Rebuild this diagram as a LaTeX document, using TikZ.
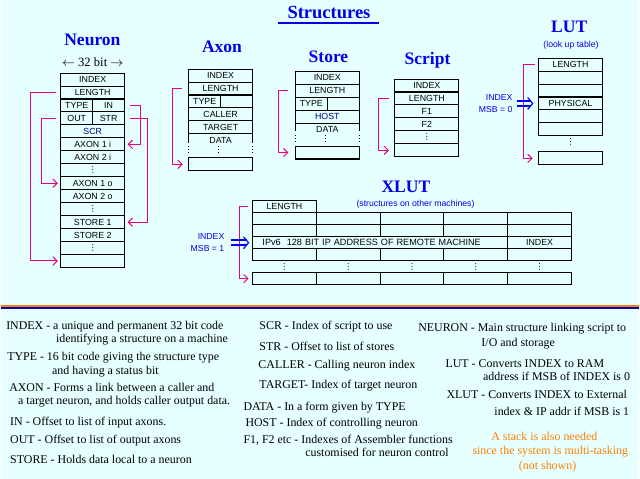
\documentclass[tikz,border=0pt]{standalone}
\usepackage{fontspec}
\setmainfont{Liberation Serif}
\newfontfamily\tabfont{Liberation Sans}
\newfontfamily\symbfont{DejaVu Sans}
\usetikzlibrary{positioning,arrows.meta}
\definecolor{fond}{RGB}{230,255,255}
\definecolor{titrebleu}{RGB}{0,0,235}
\definecolor{lienrose}{RGB}{235,0,125}
\definecolor{marine}{RGB}{0,0,128}
\definecolor{orangevif}{RGB}{255,128,0}
\definecolor{filetbleu}{RGB}{0,0,200}
\newlength{\pix}
\setlength{\pix}{0.025cm}
\newcommand{\pts}{{\symbfont\fontsize{6}{6}\selectfont ⋮}}

\begin{document}
\begin{tikzpicture}[x=\pix, y=\pix,
    champ/.style={draw, line width=0.75pt, minimum width=64\pix,
      minimum height=13\pix, inner sep=0pt, outer sep=0pt,
      font=\tabfont\fontsize{6.3}{7}\selectfont},
    demi/.style={champ, minimum width=32\pix},
    ouvert/.style={champ, draw=none},
    xchamp/.style={champ, minimum height=12\pix},
    titre/.style={text=titrebleu, font=\bfseries\fontsize{12.5}{15}\selectfont,
      inner sep=0pt, anchor=base},
    note/.style={text=titrebleu, font=\tabfont\fontsize{6.2}{8.5}\selectfont,
      inner sep=0pt},
    expl/.style={font=\fontsize{8.5}{10}\selectfont, inner sep=0pt,
      anchor=base west},
    lien/.style={lienrose, line width=0.7pt,
      -{Straight Barb[length=3pt,width=6pt]}},
    fleche/.style={blue, line width=1.6\pix},
    pointille/.style={line width=0.75pt, dash pattern=on 0.75pt off 1.4pt}]
  % Fond et titre general
  \fill[fond] (0,0) rectangle (640,-480);
  \node[titre, font=\bfseries\fontsize{13.2}{17}\selectfont] (structures)
    at (329,-19) {Structures};
  \draw[titrebleu, line width=1.2\pix]
    ([shift={(-9,-4)}]structures.base west)
      -- ([shift={(8,-4)}]structures.base east);

  % Neuron : 32 bits par ligne
  \node[titre] (tneuron) at (91.7,-45.5) {Neuron};
  \node[inner sep=0pt, font=\fontsize{9}{10}\selectfont, anchor=base] (bits)
    at (92,-67) {$\leftarrow$ 32 bit $\rightarrow$};
  \node[champ] (nidx) at (92,-79.8) {INDEX};
  \node[champ, below=0pt of nidx] (nlen) {LENGTH};
  \node[demi, below right=0pt and 0pt of nlen.south west] (ntype) {TYPE};
  \node[demi, right=0pt of ntype] (nin) {IN};
  \node[demi, below=0pt of ntype] (nout) {OUT};
  \node[demi, right=0pt of nout] (nstr) {STR};
  \node[champ, below=0pt of nout.south east] (nscr) {\textcolor{marine}{SCR}};
  \node[champ, below=0pt of nscr] (nai1) {AXON 1 i};
  \node[champ, below=0pt of nai1] (nai2) {AXON 2 i};
  \node[champ, below=0pt of nai2] (nd1) {\pts};
  \node[champ, below=0pt of nd1] (nao1) {AXON 1 o};
  \node[champ, below=0pt of nao1] (nao2) {AXON 2 o};
  \node[champ, below=0pt of nao2] (nd2) {\pts};
  \node[champ, below=0pt of nd2] (nst1) {STORE 1};
  \node[champ, below=0pt of nst1] (nst2) {STORE 2};
  \node[champ, below=0pt of nst2] (nd3) {\pts};
  \node[champ, below=0pt of nd3] (nlast) {};
  \draw[lien] ([xshift=-5\pix]nlen.west) -- ++(-25,0)
    |- ([xshift=-3\pix]nlast.west);
  \draw[lien] ([xshift=-5\pix]nout.west) -- ++(-14,0)
    |- ([xshift=-3\pix]nao1.west);
  \draw[lien] ([xshift=5\pix]nin.east) -- ++(11,0)
    |- ([xshift=3\pix]nai1.east);
  \draw[lien] ([xshift=5\pix]nstr.east) -- ++(18,0)
    |- ([xshift=3\pix]nst1.east);

  % Axon
  \node[titre] (taxon) at (221.7,-52.5) {Axon};
  \node[champ] (aidx) at (220.3,-75.8) {INDEX};
  \node[champ, below=0pt of aidx] (alen) {LENGTH};
  \node[demi, below right=0pt and 0pt of alen.south west] (atype) {TYPE};
  \node[demi, right=0pt of atype] (atypeb) {};
  \node[champ, below=0pt of atype.south east] (acall) {CALLER};
  \node[champ, below=0pt of acall] (atarg) {TARGET};
  \node[ouvert, below=0pt of atarg] (adata) {DATA};
  \node[champ, below=11\pix of adata] (alast) {};
  \draw[line width=0.75pt] (adata.north west) -- ++(0,-9)
    (adata.north east) -- ++(0,-9);
  \draw[pointille] ([yshift=-12.5\pix]adata.north west) -- ++(0,-7)
    ([shift={(-2,-12.5)}]adata.north) -- ++(0,-7)
    ([yshift=-12.5\pix]adata.north east) -- ++(0,-7);
  \draw[lien] ([xshift=-7\pix]alen.west) -- ++(-9,0)
    |- ([xshift=-6\pix]alast.west);

  % Store
  \node[titre] (tstore) at (328.5,-62.3) {Store};
  \node[champ] (sidx) at (327.3,-78) {INDEX};
  \node[champ, below=0pt of sidx] (slen) {LENGTH};
  \node[demi, below right=0pt and 0pt of slen.south west] (stype) {TYPE};
  \node[demi, right=0pt of stype] (stypeb) {};
  \node[champ, below=0pt of stype.south east] (shost)
    {\textcolor{marine}{HOST}};
  \node[ouvert, below=0pt of shost] (sdata) {DATA};
  \node[champ, below=10\pix of sdata] (slast) {};
  \draw[line width=0.75pt] (sdata.north west) -- ++(0,-7.5)
    (sdata.north east) -- ++(0,-7.5);
  \draw[pointille] ([yshift=-12\pix]sdata.north west) -- ++(0,-7)
    ([shift={(-2,-12)}]sdata.north) -- ++(0,-7)
    ([yshift=-12\pix]sdata.north east) -- ++(0,-7);
  \draw[lien] ([xshift=-7\pix]slen.west) -- ++(-10,0)
    |- ([xshift=-7\pix]slast.west);

  % Script
  \node[titre] (tscript) at (427.8,-65) {Script};
  \node[champ] (cidx) at (427.2,-85.8) {INDEX};
  \node[champ, below=0pt of cidx] (clen) {LENGTH};
  \node[champ, below=0pt of clen] (cf1) {F1};
  \node[champ, below=0pt of cf1] (cf2) {F2};
  \node[champ, below=0pt of cf2] (cdots) {\pts};
  \node[champ, below=0pt of cdots] (clast) {};
  \draw[lien] ([xshift=-6\pix]clen.west) -- ++(-11,0)
    |- ([xshift=-6\pix]clast.west);

  % LUT (look up table)
  \node[titre] (tlut) at (570,-32.7) {LUT};
  \node[note, anchor=base] (nlook) at (571.8,-48) {(look up table)};
  \node[champ] (llen) at (571.3,-64.8) {LENGTH};
  \node[champ, below=0pt of llen] (lr2) {};
  \node[champ, below=0pt of lr2] (lr3) {};
  \node[champ, below=0pt of lr3] (lphys) {PHYSICAL};
  \node[champ, below=0pt of lphys] (lr5) {};
  \node[champ, below=0pt of lr5] (lr6) {};
  \node[ouvert, below=0pt of lr6] (ldots) {\pts};
  \node[champ, below=3\pix of ldots] (llast) {};
  \draw[lien] ([xshift=-4\pix]llen.west) -- ++(-11,0)
    |- ([xshift=-6\pix]llast.west);
  \node[note, align=right, anchor=east, left=26\pix of lphys] (ilut)
    {INDEX\\MSB = 0};
  \draw[fleche] ([shift={(4,2.3)}]ilut.east) -- ([shift={(-8,2.3)}]lphys.west)
    ([shift={(4,-2.3)}]ilut.east) -- ([shift={(-8,-2.3)}]lphys.west);
  \draw[blue, line width=1.2\pix] ([shift={(-11,6)}]lphys.west)
    -- ([xshift=-6\pix]lphys.west) -- ([shift={(-11,-6)}]lphys.west);

  % XLUT : structures sur d'autres machines
  \node[titre] (txlut) at (406.2,-192.7) {XLUT};
  \node[note, anchor=base] (nother) at (415.8,-207)
    {(structures on other machines)};
  \node[xchamp] (xlen) at (284.3,-207.5) {LENGTH};
  \foreach \c in {1,...,5} {
    \node[xchamp] (xa\c) at ({220.3+64*\c},-219.5) {};
    \node[xchamp, below=0pt of xa\c] (xb\c) {};
    \node[xchamp, below=12\pix of xb\c] (xd\c) {};
    \node[xchamp, draw=none, below=0pt of xd\c] (xe\c) {\pts};
    \node[xchamp, below=0pt of xe\c] (xf\c) {};
  }
  \node[xchamp, below=0pt of xb5] (xindex) {INDEX};
  \node[xchamp, minimum width=256\pix, text width=236\pix, align=left,
        font=\tabfont\fontsize{6.5}{7}\selectfont, left=0pt of xindex] (xip)
    {IPv6~~128 BIT IP ADDRESS OF REMOTE MACHINE};
  \draw[lien] ([xshift=-5\pix]xlen.west) -- ++(-8,0)
    |- ([xshift=-4\pix]xf1.west);
  \node[note, align=right, anchor=east, left=28\pix of xip] (ixlut)
    {INDEX\\MSB = 1};
  \draw[fleche] ([shift={(6.5,2.5)}]ixlut.east) -- ([shift={(-6,2.5)}]xip.west)
    ([shift={(6.5,-2.5)}]ixlut.east) -- ([shift={(-6,-2.5)}]xip.west);
  \draw[blue, line width=1.2\pix] ([shift={(-9,6)}]xip.west)
    -- ([xshift=-4\pix]xip.west) -- ([shift={(-9,-6)}]xip.west);

  % Filet de separation
  \draw[orangevif, line width=1.8\pix] (0,-307.3) -- (640,-307.3);
  \draw[filetbleu, line width=2\pix] (0,-309.3) -- (640,-309.3);

  % Legende : premiere colonne
  \node[expl] (e1) at (5,-330.7)
    {INDEX - a unique and permanent 32 bit code};
  \node[expl] (e2) at (55,-344) {identifying a structure on a machine};
  \node[expl] (e3) at (6,-361.3)
    {TYPE - 16 bit code giving the structure type};
  \node[expl] (e4) at (51,-375.7) {and having a status bit};
  \node[expl] (e5) at (8,-393) {AXON - Forms a link between a caller and};
  \node[expl] (e6) at (17,-405.7)
    {a target neuron, and holds caller output data.};
  \node[expl] (e7) at (9,-427.3) {IN - Offset to list of input axons.};
  \node[expl] (e8) at (9,-444.7) {OUT - Offset to list of output axons};
  \node[expl] (e9) at (9,-465) {STORE - Holds data local to a neuron};
  % deuxieme colonne
  \node[expl] (f1) at (259,-330.7) {SCR - Index of script to use};
  \node[expl] (f2) at (259,-351.7) {STR - Offset to list of stores};
  \node[expl] (f3) at (258,-369.7) {CALLER - Calling neuron index};
  \node[expl] (f4) at (259,-389.7) {TARGET- Index of target neuron};
  \node[expl] (f5) at (243,-411.7) {DATA - In a form given by TYPE};
  \node[expl] (f6) at (245,-428) {HOST - Index of controlling neuron};
  \node[expl] (f7) at (243,-444.7)
    {F1, F2 etc - Indexes of Assembler functions};
  \node[expl] (f8) at (305,-458) {customised for neuron control};
  % troisieme colonne
  \node[expl] (g1) at (418.3,-333)
    {NEURON - Main structure linking script to};
  \node[expl] (g2) at (481.7,-347.3) {I/O and storage};
  \node[expl] (g3) at (445.7,-368.3) {LUT - Converts INDEX to RAM};
  \node[expl] (g4) at (483.3,-381.7) {address if MSB of INDEX is 0};
  \node[expl] (g5) at (446.7,-400) {XLUT - Converts INDEX to External};
  \node[expl] (g6) at (494.7,-416.7) {index \& IP addr if MSB is 1};
  \node[expl, anchor=base, text=orangevif] (h1) at (545,-441.7)
    {A stack is also needed};
  \node[expl, anchor=base, text=orangevif] (h2) at (551,-456)
    {since the system is multi-tasking};
  \node[expl, anchor=base, text=orangevif] (h3) at (548.3,-470.7)
    {(not shown)};
\end{tikzpicture}
\end{document}
